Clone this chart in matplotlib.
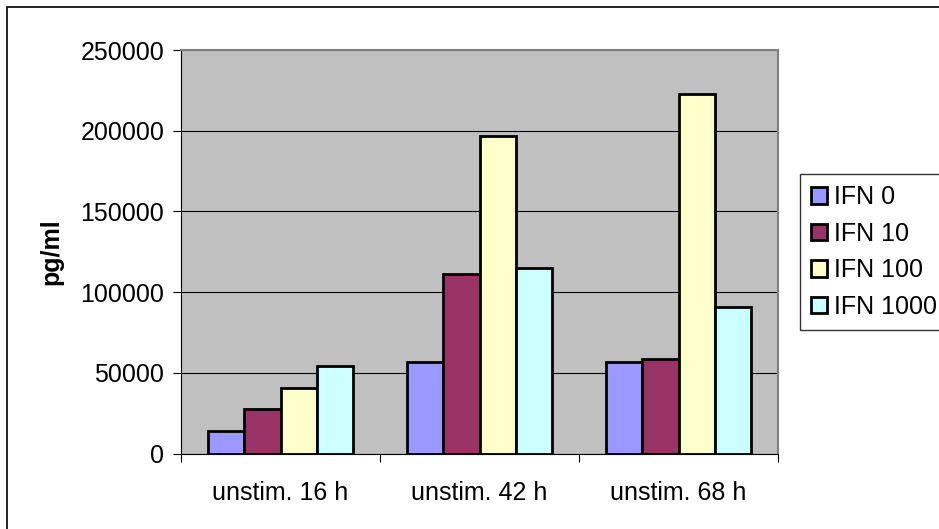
#!/usr/bin/python
# -*- coding: utf-8 -*-
"""
IL secretion (pg/ml) of unstimulated cells after 16, 42 and 68 h
for different IFN concentrations. Grouped bar chart.
"""
import numpy as np
import matplotlib
matplotlib.use('Agg')
import matplotlib.pyplot as plt
from matplotlib.patches import Rectangle

####################### DATA #######################
categories = ['unstim. 16 h', 'unstim. 42 h', 'unstim. 68 h']
series_names = ['IFN 0', 'IFN 10', 'IFN 100', 'IFN 1000']
ifn_0    = [13800,  56700,  56500]
ifn_10   = [27800, 111400,  58600]
ifn_100  = [40400, 196700, 222800]
ifn_1000 = [54000, 115000,  90500]
yticks = [0, 50000, 100000, 150000, 200000, 250000]
ylabel = 'pg/ml'

colors = ['#9999FF', '#993366', '#FFFFCC', '#CCFFFF']
plot_bg = '#C0C0C0'
fontsize = 18
####################################################

plt.rcParams['font.family'] = ['Liberation Sans', 'DejaVu Sans']

fig = plt.figure(figsize=(9.39, 5.29), dpi=100)
ax = fig.add_axes([181/939, 1-453.5/529, (778-181)/939, (453.5-50)/529])
ax.set_facecolor(plot_bg)

all_series = [ifn_0, ifn_10, ifn_100, ifn_1000]
x = np.arange(len(categories))
# gap width 150% of a bar
bar_w = 1.0 / (len(all_series) + 1.5)
for i, (vals, name) in enumerate(zip(all_series, series_names)):
    offs = (i - (len(all_series) - 1) / 2.) * bar_w
    ax.bar(x + offs, vals, width=bar_w, color=colors[i], edgecolor='black',
           linewidth=2.0, label=name, zorder=3)

ax.set_xlim(-0.5, len(categories) - 0.5)
ax.set_ylim(0, 250000)
ax.set_yticks(yticks)
ax.set_yticklabels([str(t) for t in yticks], fontsize=fontsize)
ax.yaxis.grid(True, color='black', linewidth=0.8, zorder=1)
ax.set_axisbelow(True)

# category labels in between, tick marks on the boundaries
ax.set_xticks(np.arange(-0.5, len(categories)), minor=False)
ax.set_xticklabels([])
ax.set_xticks(x, minor=True)
ax.set_xticklabels(categories, minor=True, fontsize=fontsize)
ax.tick_params(axis='x', which='minor', length=0, pad=20)
ax.tick_params(axis='x', which='major', length=6, width=0.8, direction='out')
ax.tick_params(axis='y', length=6, width=0.8, direction='out', pad=6)

ax.set_ylabel(ylabel, fontsize=fontsize, fontweight='bold', labelpad=12)

for side in ['top', 'right']:
    ax.spines[side].set_color('#808080')
    ax.spines[side].set_linewidth(1.5)
for side in ['left', 'bottom']:
    ax.spines[side].set_color('black')
    ax.spines[side].set_linewidth(0.8)

leg = fig.legend(loc='upper left', bbox_to_anchor=(800/939, 1-174/529),
                 fontsize=fontsize, frameon=True, fancybox=False,
                 handlelength=0.62, handleheight=0.62, handletextpad=0.3,
                 borderpad=0.45, labelspacing=0.5, borderaxespad=0.)
leg.get_frame().set_edgecolor('black')
leg.get_frame().set_linewidth(1.0)
for h in leg.legend_handles:
    h.set_linewidth(2.0)

# chart area border
fig.patches.append(Rectangle((7/939, -0.1), 1.1, 1.1 - 7/529, fill=False,
                             edgecolor='black', linewidth=1.2,
                             transform=fig.transFigure, figure=fig))

plt.savefig('out.png', dpi=100)
plt.close(fig)
